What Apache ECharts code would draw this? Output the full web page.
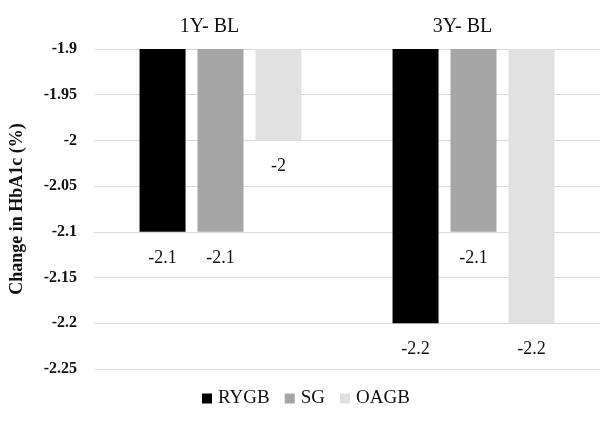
<!DOCTYPE html>
<html>
<head>
<meta charset="utf-8">
<script src="https://cdn.jsdelivr.net/npm/echarts@6/dist/echarts.min.js"></script>
<style>html,body{margin:0;padding:0;background:#fff}#c{width:600px;height:425px}</style>
</head>
<body>
<div id="c"></div>
<script>
const categories = ['1Y- BL', '3Y- BL'];
const seriesNames = ['RYGB', 'SG', 'OAGB'];
const rygb = [-2.1, -2.2];
const sg = [-2.1, -2.1];
const oagb = [-2.0, -2.2];
const yTicks = [-2.25, -2.2, -2.15, -2.1, -2.05, -2.0, -1.95, -1.9];

const font = '"Liberation Serif", "Times New Roman", serif';
const colors = ['#000000', '#a6a6a6', '#e1e1e1'];
const values = [rygb, sg, oagb];

const chart = echarts.init(document.getElementById('c'));
chart.setOption({
  animation: false,
  grid: { left: 90, right: 0, top: 49, bottom: 56, containLabel: false },
  legend: {
    data: seriesNames,
    top: 389,
    left: 202,
    itemWidth: 10,
    itemHeight: 10,
    itemGap: 15,
    icon: 'rect',
    padding: 0,
    textStyle: { fontFamily: font, fontSize: 19, color: '#111', padding: [0, 0, 0, 1] }
  },
  xAxis: {
    type: 'category',
    data: categories,
    position: 'top',
    axisLine: { show: false },
    axisTick: { show: false },
    axisLabel: { fontFamily: font, fontSize: 20, color: '#111', margin: 12, padding: [0, 22, 0, 0] }
  },
  yAxis: {
    type: 'value',
    min: yTicks[0],
    max: yTicks[yTicks.length - 1],
    interval: 0.05,
    name: 'Change in HbA1c (%)',
    nameLocation: 'middle',
    nameGap: 68,
    nameTextStyle: { fontFamily: font, fontSize: 18, fontWeight: 'bold', color: '#111' },
    axisLine: { show: false },
    axisTick: { show: false },
    splitLine: { lineStyle: { color: '#d9d9d9', width: 1 } },
    axisLabel: {
      fontFamily: font, fontSize: 16, fontWeight: 'bold', color: '#111', margin: 17,
      formatter: v => String(parseFloat(v.toFixed(2)))
    }
  },
  series: seriesNames.map((n, i) => ({
    name: n,
    type: 'bar',
    data: values[i],
    barWidth: 46,
    barGap: '26%',
    clip: true,
    itemStyle: { color: colors[i] },
    label: {
      show: true,
      position: 'bottom',
      distance: 17,
      fontFamily: font,
      fontSize: 18,
      color: '#111',
      formatter: p => String(parseFloat(p.value.toFixed(2)))
    }
  }))
});
</script>
</body>
</html>
